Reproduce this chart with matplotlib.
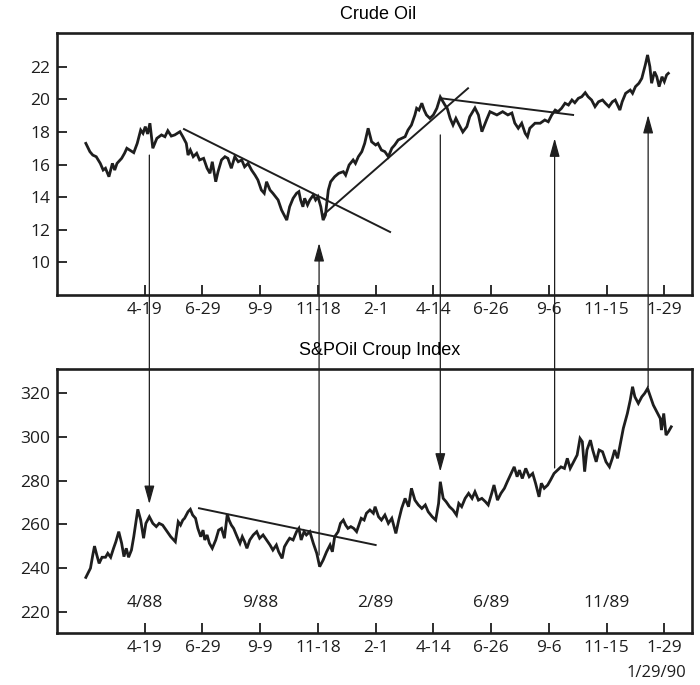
import matplotlib.pyplot as plt
from matplotlib.patches import ConnectionPatch

# x positions are in "tick units": 0 = 4-19 ... 9 = 1-29
tick_labels = ['4-19', '6-29', '9-9', '11-18', '2-1', '4-14', '6-26', '9-6', '11-15', '1-29']
tick_pos = list(range(10))

crude_x = [-1.02, -0.95, -0.90, -0.84, -0.77, -0.72, -0.68, -0.62, -0.56, -0.52,
           -0.48, -0.40, -0.35, -0.31, -0.26, -0.19, -0.13, -0.07, -0.03, 0.01,
           0.05, 0.09, 0.14, 0.21, 0.29, 0.35, 0.40, 0.46, 0.52, 0.61,
           0.66, 0.72, 0.75, 0.79, 0.84, 0.90, 0.95, 1.02, 1.08, 1.13,
           1.17, 1.23, 1.27, 1.33, 1.39, 1.44, 1.50, 1.56, 1.62, 1.68,
           1.73, 1.79, 1.85, 1.91, 1.96, 2.02, 2.07, 2.11, 2.17, 2.22,
           2.31, 2.37, 2.43, 2.46, 2.51, 2.57, 2.63, 2.67, 2.70, 2.74,
           2.77, 2.82, 2.86, 2.92, 2.96, 3.00, 3.05, 3.09, 3.13, 3.18,
           3.22, 3.29, 3.36, 3.44, 3.48, 3.54, 3.61, 3.65, 3.70, 3.76,
           3.81, 3.87, 3.93, 4.00, 4.04, 4.10, 4.16, 4.22, 4.28, 4.33,
           4.39, 4.45, 4.51, 4.56, 4.62, 4.68, 4.71, 4.75, 4.80, 4.84,
           4.88, 4.94, 5.00, 5.06, 5.12, 5.20, 5.24, 5.29, 5.34, 5.39,
           5.43, 5.51, 5.58, 5.63, 5.72, 5.78, 5.84, 5.92, 5.98, 6.10,
           6.20, 6.29, 6.36, 6.41, 6.47, 6.53, 6.59, 6.63, 6.67, 6.76,
           6.85, 6.93, 6.99, 7.05, 7.11, 7.16, 7.22, 7.28, 7.34, 7.40,
           7.45, 7.51, 7.57, 7.63, 7.68, 7.74, 7.80, 7.86, 7.93, 7.98,
           8.04, 8.10, 8.15, 8.19, 8.23, 8.27, 8.33, 8.41, 8.45, 8.50,
           8.56, 8.61, 8.67, 8.71, 8.75, 8.78, 8.83, 8.87, 8.91, 8.96,
           9.00, 9.04, 9.07]
crude_y = [17.30, 16.79, 16.58, 16.48, 16.07, 15.66, 15.77, 15.25, 16.07, 15.66,
           16.07, 16.38, 16.69, 17.00, 16.89, 16.73, 17.30, 18.12, 17.92, 18.33,
           17.88, 18.54, 17.00, 17.61, 17.82, 17.71, 18.08, 17.75, 17.82, 18.02,
           17.71, 17.30, 16.58, 16.89, 16.48, 16.69, 16.28, 16.38, 15.77, 15.46,
           16.17, 14.94, 15.56, 16.28, 16.48, 16.38, 15.77, 16.48, 16.17, 16.28,
           15.86, 16.07, 15.66, 15.35, 15.05, 14.43, 14.23, 14.94, 14.43, 14.23,
           13.82, 13.20, 12.79, 12.58, 13.40, 13.92, 14.23, 14.33, 13.82, 13.40,
           13.92, 13.51, 13.82, 14.12, 13.82, 14.02, 13.40, 12.58, 12.89, 14.43,
           14.94, 15.25, 15.46, 15.56, 15.35, 15.97, 16.28, 16.07, 16.48, 16.79,
           17.30, 18.23, 17.40, 17.20, 17.30, 16.89, 16.79, 16.48, 17.00, 17.20,
           17.51, 17.61, 17.71, 18.12, 18.43, 19.05, 19.46, 19.35, 19.77, 19.35,
           19.05, 18.84, 19.05, 19.46, 20.15, 19.66, 19.46, 18.84, 18.43, 18.84,
           18.55, 18.00, 18.33, 18.94, 19.48, 19.05, 18.02, 18.74, 19.25, 19.05,
           19.25, 19.05, 19.17, 18.55, 18.23, 18.54, 17.92, 17.71, 18.23, 18.54,
           18.54, 18.74, 18.63, 19.05, 19.35, 19.25, 19.46, 19.77, 19.66, 19.97,
           19.80, 20.07, 20.17, 20.42, 20.17, 19.97, 19.56, 19.86, 19.97, 19.77,
           19.56, 19.86, 19.97, 19.66, 19.35, 19.86, 20.38, 20.58, 20.38, 20.79,
           21.00, 21.30, 22.12, 22.74, 22.02, 21.00, 21.71, 21.40, 20.79, 21.40,
           21.10, 21.51, 21.61]

spoil_x = [-1.02, -0.94, -0.90, -0.87, -0.83, -0.79, -0.74, -0.68, -0.64, -0.59,
           -0.54, -0.50, -0.45, -0.40, -0.36, -0.32, -0.28, -0.23, -0.19, -0.12,
           -0.07, -0.02, 0.02, 0.08, 0.14, 0.20, 0.25, 0.31, 0.37, 0.45,
           0.53, 0.58, 0.62, 0.66, 0.69, 0.75, 0.79, 0.83, 0.88, 0.92,
           0.97, 1.01, 1.04, 1.08, 1.12, 1.17, 1.23, 1.28, 1.33, 1.38,
           1.43, 1.46, 1.50, 1.54, 1.60, 1.65, 1.69, 1.73, 1.77, 1.82,
           1.88, 1.94, 1.99, 2.05, 2.11, 2.17, 2.22, 2.28, 2.32, 2.38,
           2.42, 2.47, 2.51, 2.57, 2.63, 2.67, 2.71, 2.76, 2.80, 2.86,
           2.92, 2.98, 3.03, 3.09, 3.15, 3.21, 3.25, 3.29, 3.35, 3.39,
           3.44, 3.48, 3.52, 3.57, 3.62, 3.67, 3.71, 3.75, 3.80, 3.84,
           3.90, 3.96, 3.99, 4.05, 4.10, 4.16, 4.22, 4.28, 4.35, 4.40,
           4.45, 4.51, 4.57, 4.62, 4.68, 4.74, 4.80, 4.86, 4.91, 4.98,
           5.04, 5.09, 5.12, 5.17, 5.22, 5.28, 5.34, 5.40, 5.44, 5.49,
           5.55, 5.61, 5.67, 5.72, 5.78, 5.84, 5.90, 5.95, 6.01, 6.05,
           6.11, 6.17, 6.23, 6.28, 6.36, 6.40, 6.45, 6.49, 6.54, 6.60,
           6.66, 6.72, 6.77, 6.83, 6.87, 6.92, 6.98, 7.03, 7.09, 7.15,
           7.21, 7.27, 7.32, 7.37, 7.43, 7.49, 7.54, 7.58, 7.62, 7.66,
           7.72, 7.76, 7.82, 7.87, 7.93, 7.99, 8.05, 8.10, 8.14, 8.19,
           8.24, 8.29, 8.36, 8.41, 8.45, 8.49, 8.55, 8.61, 8.66, 8.71,
           8.76, 8.81, 8.87, 8.93, 8.95, 8.99, 9.03, 9.07, 9.12]
spoil_y = [235.8, 240.0, 246.0, 250.1, 246.0, 242.2, 245.0, 245.0, 246.8, 245.0,
           249.1, 252.1, 256.7, 251.4, 245.3, 249.1, 245.0, 248.3, 254.4, 266.9,
           262.0, 253.7, 260.5, 263.5, 260.5, 259.0, 260.5, 259.7, 257.4, 254.4,
           252.1, 261.2, 259.7, 262.0, 262.8, 265.8, 266.9, 264.3, 262.8, 258.2,
           254.4, 257.4, 252.9, 255.2, 251.4, 249.1, 252.9, 257.4, 258.2, 253.7,
           264.7, 262.0, 259.7, 258.2, 254.4, 251.4, 254.4, 252.1, 249.1, 252.9,
           255.2, 256.7, 253.7, 255.2, 252.9, 250.6, 248.3, 250.6, 247.5, 244.5,
           249.8, 252.1, 253.7, 252.9, 256.7, 258.2, 252.9, 256.7, 255.2, 256.7,
           251.4, 246.8, 240.7, 243.7, 247.5, 250.6, 247.5, 254.4, 256.7, 260.5,
           262.0, 259.7, 258.2, 259.0, 258.2, 256.7, 259.7, 262.8, 262.0, 265.1,
           266.6, 265.1, 268.1, 263.5, 262.0, 264.3, 260.5, 262.8, 255.9, 262.0,
           267.3, 271.9, 268.1, 276.5, 271.1, 268.9, 267.3, 268.9, 265.8, 263.5,
           262.0, 269.6, 279.5, 271.9, 270.4, 268.1, 266.6, 264.3, 269.6, 268.1,
           271.9, 274.2, 271.9, 274.9, 271.1, 271.9, 270.4, 268.9, 274.2, 278.0,
           271.1, 274.2, 276.5, 279.5, 284.1, 286.3, 281.8, 284.8, 281.0, 285.6,
           281.8, 283.3, 278.8, 272.6, 278.8, 276.5, 278.0, 280.3, 283.3, 284.8,
           286.3, 285.6, 290.2, 285.6, 288.6, 291.7, 299.3, 297.8, 284.1, 294.0,
           298.5, 294.0, 288.6, 294.0, 293.2, 288.6, 286.3, 290.2, 294.0, 290.2,
           297.0, 303.9, 310.7, 316.8, 322.9, 318.3, 315.3, 318.3, 319.9, 322.1,
           318.3, 314.5, 311.5, 308.4, 303.1, 310.7, 300.8, 302.3, 304.6]

period_labels = ['4/88', '9/88', '2/89', '6/89', '11/89']
period_pos = [0, 2, 4, 6, 8]

# trend lines ((x0, y0), (x1, y1))
crude_trends = [((0.68, 18.18), (4.25, 11.85)),
                ((3.09, 12.89), (5.60, 20.69)),
                ((5.14, 20.07), (7.42, 19.05))]
spoil_trends = [((0.94, 267.4), (4.00, 250.6))]

# arrows: x, y in crude panel, y in S&P panel, direction of head
arrows = [(0.08, 16.58, 269.3, 'down'),
          (3.02, 11.17, 246.0, 'up'),
          (5.12, 17.82, 284.1, 'down'),
          (7.10, 17.61, 285.8, 'up'),
          (8.72, 19.05, 322.9, 'up')]

ink = '#1e1e1e'
plt.rcParams['font.family'] = ['Open Sans', 'DejaVu Sans']

fig = plt.figure(figsize=(7.0, 6.85), dpi=100)
fig.patch.set_facecolor('white')
ax1 = fig.add_axes([0.0814, 0.5693, 0.9072, 0.3825])
ax2 = fig.add_axes([0.0814, 0.0759, 0.9072, 0.3854])

for ax in (ax1, ax2):
    ax.set_xlim(-1.52, 9.48)
    ax.set_xticks(tick_pos)
    ax.set_xticklabels(tick_labels)
    ax.tick_params(direction='in', length=7, width=1.3, colors=ink,
                   labelsize=12.5, pad=5)
    for sp in ax.spines.values():
        sp.set_linewidth(1.9)
        sp.set_color(ink)

ax1.set_ylim(7.97, 24.09)
ax1.set_yticks([10, 12, 14, 16, 18, 20, 22])
ax2.set_ylim(210.4, 331.0)
ax2.set_yticks([220, 240, 260, 280, 300, 320])

ax1.plot(crude_x, crude_y, color=ink, lw=2.0, solid_joinstyle='miter')
ax2.plot(spoil_x, spoil_y, color=ink, lw=2.0, solid_joinstyle='miter')

for (x0, y0), (x1, y1) in crude_trends:
    ax1.plot([x0, x1], [y0, y1], color=ink, lw=1.4)
for (x0, y0), (x1, y1) in spoil_trends:
    ax2.plot([x0, x1], [y0, y1], color=ink, lw=1.4)

for lab, p in zip(period_labels, period_pos):
    ax2.text(p, 224.0, lab, ha='center', va='center', fontsize=12.5, color=ink)

for x, yc, ys, d in arrows:
    if d == 'down':
        con = ConnectionPatch(xyA=(x, yc), coordsA=ax1.transData,
                              xyB=(x, ys), coordsB=ax2.transData)
    else:
        con = ConnectionPatch(xyA=(x, ys), coordsA=ax2.transData,
                              xyB=(x, yc), coordsB=ax1.transData)
    con.set_arrowstyle('-|>', head_length=0.8, head_width=0.22)
    con.set_mutation_scale(14)
    con.set_linewidth(0.9)
    con.set_color(ink)
    fig.add_artist(con)

fig.text(0.54, 0.979, 'Crude Oil', ha='center', va='center', fontsize=13,
         family='Liberation Sans', color='black')
fig.text(0.543, 0.489, 'S&POil Croup Index', ha='center', va='center', fontsize=13,
         family='Liberation Sans', color='black')
fig.text(0.98, 0.017, '1/29/90', ha='right', va='center', fontsize=12, color=ink)

fig.savefig('out.png', dpi=100)
